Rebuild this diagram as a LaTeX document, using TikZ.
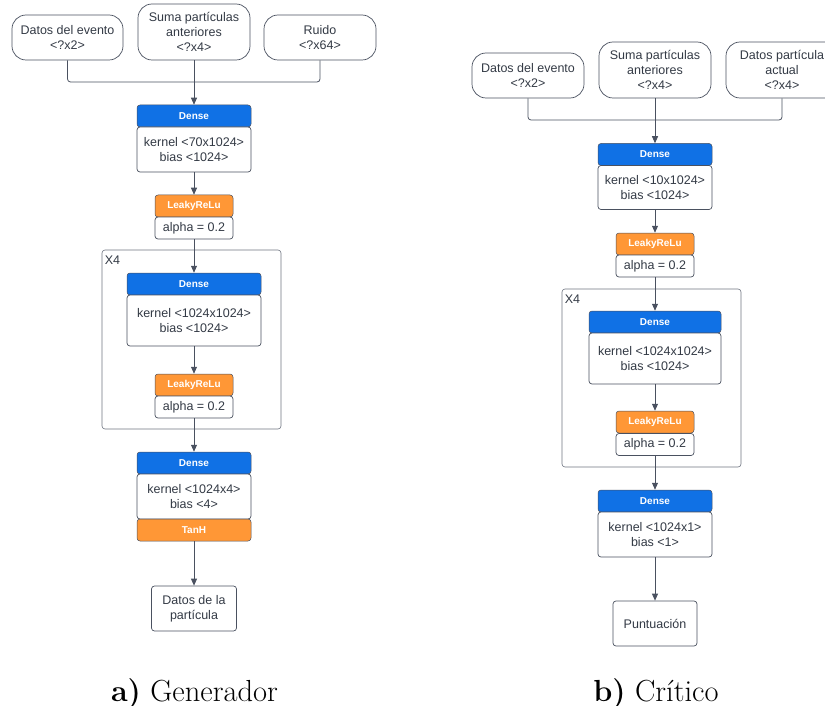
\documentclass[tikz,border=0pt]{standalone}
\usepackage{fontspec}
\newfontfamily\lsans{Liberation Sans}
\usetikzlibrary{arrows.meta}
\definecolor{lucblue}{HTML}{1071E5}
\definecolor{lucorange}{HTML}{FF9736}
\definecolor{linec}{HTML}{4A5160}
\definecolor{textc}{HTML}{333A45}
\tikzset{
  box/.style={draw=linec, line width=0.7pt, fill=white, inner sep=0pt, align=center,
    text=textc, font=\lsans\fontsize{12.5}{15}\selectfont},
  ibox/.style={box, rounded corners=14pt},
  bodybox/.style={box, rounded corners=3pt},
  hdr/.style={draw=linec, line width=0.5pt, rounded corners=3pt, inner sep=0pt,
    text=white, font=\lsans\bfseries\fontsize{10}{12}\selectfont},
  bluehdr/.style={hdr, fill=lucblue},
  orghdr/.style={hdr, fill=lucorange},
  frame/.style={draw=linec!80, line width=0.6pt, rounded corners=3pt},
  conn/.style={draw=linec, line width=0.8pt},
  arr/.style={conn, -{Triangle[length=7pt,width=6pt]}},
  captxt/.style={font=\fontsize{30.5}{36}\selectfont, anchor=base, inner sep=0pt}
}
\begin{document}
\begin{tikzpicture}[x=1pt,y=-1pt]
\useasboundingbox (0,0) rectangle (825,706);
\clip (0,0) rectangle (825,706);
% ---------- Generator ----------
\node[ibox, minimum width=111, minimum height=45] (gin1) at (67.5,37.5) {Datos del evento\\<?x2>};
\node[ibox, minimum width=112, minimum height=56] (gin2) at (194,32) {Suma partículas\\anteriores\\<?x4>};
\node[ibox, minimum width=112, minimum height=45] (gin3) at (320,37.5) {Ruido\\<?x64>};
\coordinate (gj) at (194,82);
\node[bluehdr, minimum width=114, minimum height=22] (gd1h) at (194,116) {Dense};
\node[bodybox, minimum width=114, minimum height=45] (gd1b) at (194,149.5) {kernel <70x1024>\\bias <1024>};
\node[orghdr, minimum width=78, minimum height=22] (gl1h) at (194,206) {LeakyReLu};
\node[bodybox, minimum width=78, minimum height=22] (gl1b) at (194,228) {alpha = 0.2};
\node[frame, minimum width=179, minimum height=179] (gfr) at (191.5,339.5) {};
\node[anchor=north west, inner sep=0pt, text=textc, font=\lsans\fontsize{12.5}{15}\selectfont] (gx4) at ([xshift=3pt,yshift=-6pt]gfr.north west) {X4};
\node[bluehdr, minimum width=134, minimum height=22] (gd2h) at (194,284) {Dense};
\node[bodybox, minimum width=134, minimum height=51] (gd2b) at (194,320.5) {kernel <1024x1024>\\bias <1024>};
\node[orghdr, minimum width=78, minimum height=22] (gl2h) at (194,385) {LeakyReLu};
\node[bodybox, minimum width=78, minimum height=22] (gl2b) at (194,407) {alpha = 0.2};
\node[bluehdr, minimum width=114, minimum height=22] (gd3h) at (194,463) {Dense};
\node[bodybox, minimum width=114, minimum height=45] (gd3b) at (194,496.5) {kernel <1024x4>\\bias <4>};
\node[orghdr, minimum width=114, minimum height=22] (gth) at (194,530) {TanH};
\node[bodybox, minimum width=85, minimum height=45] (gout) at (194,608.5) {Datos de la\\partícula};
\draw[conn, rounded corners=3pt] (gin1.south) |- (gj);
\draw[conn, rounded corners=3pt] (gin3.south) |- (gj);
\draw[arr] (gin2.south) -- (gd1h.north);
\draw[arr] (gd1b.south) -- (gl1h.north);
\draw[arr] (gl1b.south) -- (gd2h.north);
\draw[arr] (gd2b.south) -- (gl2h.north);
\draw[arr] (gl2b.south) -- (gd3h.north);
\draw[arr] (gth.south) -- (gout.north);
% ---------- Critic ----------
\node[ibox, minimum width=112, minimum height=45] (cin1) at (528,75.5) {Datos del evento\\<?x2>};
\node[ibox, minimum width=112, minimum height=56] (cin2) at (655,70) {Suma partículas\\anteriores\\<?x4>};
\node[ibox, minimum width=112, minimum height=56] (cin3) at (782,70) {Datos partícula\\actual\\<?x4>};
\coordinate (cj) at (655,120);
\node[bluehdr, minimum width=114, minimum height=22] (cd1h) at (655,154.5) {Dense};
\node[bodybox, minimum width=114, minimum height=44] (cd1b) at (655,187.5) {kernel <10x1024>\\bias <1024>};
\node[orghdr, minimum width=78, minimum height=22] (cl1h) at (655,244) {LeakyReLu};
\node[bodybox, minimum width=78, minimum height=22] (cl1b) at (655,266) {alpha = 0.2};
\node[frame, minimum width=179, minimum height=178] (cfr) at (651.5,378) {};
\node[anchor=north west, inner sep=0pt, text=textc, font=\lsans\fontsize{12.5}{15}\selectfont] (cx4) at ([xshift=3pt,yshift=-6pt]cfr.north west) {X4};
\node[bluehdr, minimum width=132, minimum height=22] (cd2h) at (655,322) {Dense};
\node[bodybox, minimum width=132, minimum height=51] (cd2b) at (655,358.5) {kernel <1024x1024>\\bias <1024>};
\node[orghdr, minimum width=78, minimum height=22] (cl2h) at (655,422) {LeakyReLu};
\node[bodybox, minimum width=78, minimum height=22] (cl2b) at (655,444.5) {alpha = 0.2};
\node[bluehdr, minimum width=114, minimum height=22] (cd3h) at (655,501) {Dense};
\node[bodybox, minimum width=114, minimum height=45] (cd3b) at (655,534.5) {kernel <1024x1>\\bias <1>};
\node[bodybox, minimum width=84, minimum height=45] (cout) at (655,623.5) {Puntuación};
\draw[conn, rounded corners=3pt] (cin1.south) |- (cj);
\draw[conn, rounded corners=3pt] (cin3.south) |- (cj);
\draw[arr] (cin2.south) -- (cd1h.north);
\draw[arr] (cd1b.south) -- (cl1h.north);
\draw[arr] (cl1b.south) -- (cd2h.north);
\draw[arr] (cd2b.south) -- (cl2h.north);
\draw[arr] (cl2b.south) -- (cd3h.north);
\draw[arr] (cd3b.south) -- (cout.north);
% ---------- Captions ----------
\node[captxt] (capa) at (194.5,701) {\textbf{a)} Generador};
\node[captxt] (capb) at (656,701) {\textbf{b)} Crítico};
\end{tikzpicture}
\end{document}
